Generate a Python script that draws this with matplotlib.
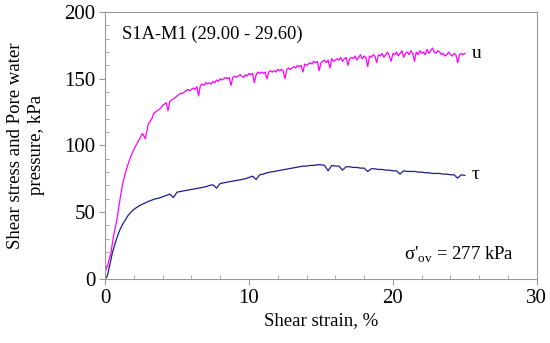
# Shear stress and pore water pressure vs shear strain, S1A-M1

import numpy as np
import matplotlib
matplotlib.use("Agg")
import matplotlib.pyplot as plt
from matplotlib.ticker import MultipleLocator

plt.rcParams["font.family"] = ["Liberation Serif", "DejaVu Serif"]
plt.rcParams["mathtext.fontset"] = "custom"
plt.rcParams["mathtext.rm"] = "Liberation Serif"

# pore water pressure u (kPa), early part
u_x_start = [0, 0.1, 0.2, 0.3, 0.4, 0.5, 0.6, 0.8, 1.0, 1.2, 1.4, 1.6, 1.8,
             2.0, 2.2, 2.4, 2.6, 2.8, 3.0]
u_start = [5, 8, 11, 15, 19, 26, 33, 43, 57, 70, 79, 86, 92,
           97, 101, 105, 109, 105, 116]
# u from 3.125 % in 0.125 % steps (one row per 1 % strain)
u_rest = [118, 120, 124, 125, 126, 127, 128, 130,
          131, 132, 126, 133, 134, 135, 136, 137,
          138, 139, 139, 140, 141, 142, 141, 142,
          143, 142, 144, 137, 145, 146, 145, 147,
          146, 147, 146, 148, 147, 149, 148, 150,
          149, 150, 151, 150, 151, 145, 151, 152,
          151, 152, 153, 152, 151, 153, 152, 154,
          153, 154, 147, 153, 155, 154, 155, 154,
          155, 150, 155, 156, 155, 156, 155, 157,
          156, 157, 156, 150, 157, 158, 157, 158,
          159, 158, 160, 159, 160, 155, 161, 160,
          161, 162, 161, 163, 162, 163, 156, 162,
          163, 164, 162, 164, 158, 165, 163, 164,
          165, 164, 166, 163, 165, 166, 160, 165,
          166, 165, 167, 164, 166, 168, 165, 167,
          166, 159, 167, 166, 168, 167, 162, 168,
          167, 169, 166, 168, 170, 167, 163, 169,
          168, 170, 167, 169, 171, 166, 169, 170,
          168, 171, 169, 163, 170, 168, 171, 169,
          170, 168, 172, 169, 171, 173, 170, 169,
          171, 170, 168, 169, 167, 168, 170, 168,
          167, 169, 168, 162, 168, 169, 168, 169]

# shear stress tau (kPa), early part
t_x_start = [0, 0.1, 0.2, 0.3, 0.4, 0.5, 0.6, 0.8, 1.0, 1.2, 1.4, 1.6, 1.8,
             2.0, 2.2, 2.4, 2.6, 2.8, 3.0]
t_start = [0, 1, 4, 9, 14, 19, 23, 30, 36, 40.5, 44, 47.5, 50,
           52, 53.5, 55, 56, 57, 58]
# tau from 3.25 % in 0.25 % steps (one row per 1 % strain)
t_rest = [59, 60, 60.5, 61.5,
          62.5, 63.5, 61, 65,
          65.5, 66, 66.5, 67,
          67.5, 68, 68.5, 69,
          70, 70.5, 68, 71.5,
          72, 72.5, 73, 73.5,
          74, 74.5, 75, 76,
          77, 74.5, 78, 78.5,
          79.5, 80, 80.5, 81,
          81.5, 82, 82.5, 83,
          83.5, 84, 84.5, 84.5,
          85, 85, 85.5, 85.5,
          85, 81, 85, 84.5,
          84.5, 81.5, 84, 84,
          83.5, 83.5, 83, 83,
          80.5, 82.5, 82.5, 82,
          82, 81.5, 81.5, 81,
          81, 78.5, 81, 80.5,
          80.5, 80.5, 80, 80,
          79.5, 79.5, 79, 79,
          79, 78.5, 78.5, 78,
          78, 75.5, 78, 77.5]

u_x = np.concatenate([u_x_start, 3.125 + 0.125 * np.arange(len(u_rest))])
u_y = np.concatenate([u_start, u_rest])
t_x = np.concatenate([t_x_start, 3.25 + 0.25 * np.arange(len(t_rest))])
t_y = np.concatenate([t_start, t_rest])

fig = plt.figure(figsize=(5.5, 3.43), dpi=100)
ax = fig.add_axes([0.191, 0.187, 0.785, 0.778])

ax.plot(u_x, u_y, color="#ff00ff", lw=0.9)
ax.plot(t_x, t_y, color="#1c1c8c", lw=0.9)

ax.set_xlim(0, 30)
ax.set_ylim(0, 200)
ax.xaxis.set_major_locator(MultipleLocator(10))
ax.xaxis.set_minor_locator(MultipleLocator(2))
ax.yaxis.set_major_locator(MultipleLocator(50))
ax.yaxis.set_minor_locator(MultipleLocator(10))
ax.tick_params(which="major", direction="out", length=4, color="#999999",
               labelsize=15, pad=3)
ax.tick_params(which="minor", direction="in", length=3, color="#999999")
for s in ax.spines.values():
    s.set_color("#999999")

ax.set_xlabel("Shear strain, %", fontsize=13.5, labelpad=3)
ax.set_ylabel("Shear stress and Pore water\npressure, kPa", fontsize=13.5,
              linespacing=1.25)
ax.yaxis.set_label_coords(-0.14, 0.5)

ax.text(1.2, 183, "S1A-M1 (29.00 - 29.60)", fontsize=13.3, va="center")
ax.text(25.5, 169, "u", fontsize=14, va="center")
ax.text(25.5, 78, "τ", fontsize=14, va="center")
ax.text(20.8, 18, r"σ'$_{\rm ov}$ = 277 kPa", fontsize=13.5, va="center")

fig.savefig("out.png", dpi=100)
